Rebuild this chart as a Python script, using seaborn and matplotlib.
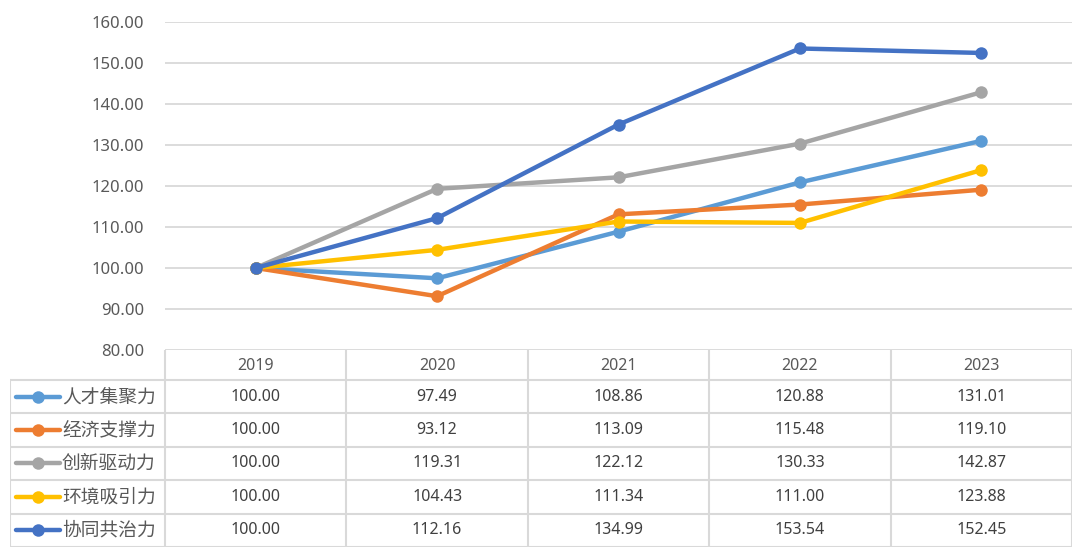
import matplotlib
matplotlib.use("Agg")
import matplotlib.pyplot as plt
import seaborn as sns
import pandas as pd

years = ["2019", "2020", "2021", "2022", "2023"]
series_names = ["人才集聚力", "经济支撑力", "创新驱动力", "环境吸引力", "协同共治力"]
talent = [100.00, 97.49, 108.86, 120.88, 131.01]
economy = [100.00, 93.12, 113.09, 115.48, 119.10]
innovation = [100.00, 119.31, 122.12, 130.33, 142.87]
environment = [100.00, 104.43, 111.34, 111.00, 123.88]
synergy = [100.00, 112.16, 134.99, 153.54, 152.45]
colors = ["#5B9BD5", "#ED7D31", "#A5A5A5", "#FFC000", "#4472C4"]
y_ticks = [80, 90, 100, 110, 120, 130, 140, 150, 160]

all_values = [talent, economy, innovation, environment, synergy]
rows = []
for name, vals in zip(series_names, all_values):
    for i, v in enumerate(vals):
        rows.append({"idx": i, "year": years[i], "value": v, "series": name})
df = pd.DataFrame(rows)

sns.set_theme(style="white")
plt.rcParams["font.family"] = ["Noto Sans CJK SC", "DejaVu Sans"]
num_font = ["Noto Sans", "DejaVu Sans"]

W, H = 1080, 555
fig = plt.figure(figsize=(W / 100, H / 100), dpi=100)
fig.patch.set_facecolor("white")

px_left, px_right, px_top, px_bottom = 165, 1072, 22, 350
ax = fig.add_axes([px_left / W, 1 - px_bottom / H, (px_right - px_left) / W, (px_bottom - px_top) / H])
ax.set_facecolor("white")
sns.lineplot(data=df, x="idx", y="value", hue="series", hue_order=series_names,
             palette=colors, marker="o", markersize=9, markeredgewidth=0,
             linewidth=3.2, legend=False, ax=ax, zorder=3)
ax.set_xlim(-0.5, 4.5)
ax.set_ylim(80, 160)
ax.set_yticks(y_ticks)
ax.set_yticklabels([f"{t:.2f}" for t in y_ticks], color="#595959", fontsize=12,
                   family=num_font)
ax.set_xticks([])
ax.set_xlabel("")
ax.set_ylabel("")
ax.grid(axis="y", color="#D9D9D9", linewidth=1.3, zorder=0)
ax.tick_params(axis="y", length=0, pad=15)
for s in ax.spines.values():
    s.set_visible(False)

# Data table
t_left, t_top, t_bottom = 10, 350, 547
ax_t = fig.add_axes([t_left / W, 1 - t_bottom / H, (px_right - t_left) / W, (t_bottom - t_top) / H])
ax_t.set_xlim(t_left, px_right)
ax_t.set_ylim(t_bottom, t_top)
ax_t.axis("off")
grid_c = "#D9D9D9"
col_w = (px_right - px_left) / len(years)
header_bottom = 380
row_h = (t_bottom - header_bottom) / len(series_names)
# vertical lines
for j in range(len(years) + 1):
    x = px_left + j * col_w
    ax_t.plot([x, x], [t_top, t_bottom], color=grid_c, lw=1.5, solid_capstyle="butt")
ax_t.plot([t_left, t_left], [header_bottom, t_bottom], color=grid_c, lw=1.5)
# horizontal lines
for r in range(len(series_names) + 1):
    y = header_bottom + r * row_h
    ax_t.plot([t_left, px_right], [y, y], color=grid_c, lw=1.5)
# header
for j, yr in enumerate(years):
    ax_t.text(px_left + (j + 0.5) * col_w, (t_top + header_bottom) / 2 + 1, yr,
              ha="center", va="center", fontsize=11.5, color="#595959", family=num_font)
# rows
for r, (name, vals, c) in enumerate(zip(series_names, all_values, colors)):
    yc = header_bottom + (r + 0.5) * row_h
    ax_t.plot([16, 60], [yc, yc], color=c, lw=3.2, solid_capstyle="round")
    ax_t.plot([38], [yc], marker="o", color=c, markersize=9, markeredgewidth=0)
    ax_t.text(62, yc, name, ha="left", va="center", fontsize=13.5, color="#595959")
    for j, v in enumerate(vals):
        ax_t.text(px_left + (j + 0.5) * col_w, yc, f"{v:.2f}", ha="center", va="center",
                  fontsize=11.5, color="#404040", family=num_font)

fig.savefig("out.png", dpi=100, facecolor="white")
